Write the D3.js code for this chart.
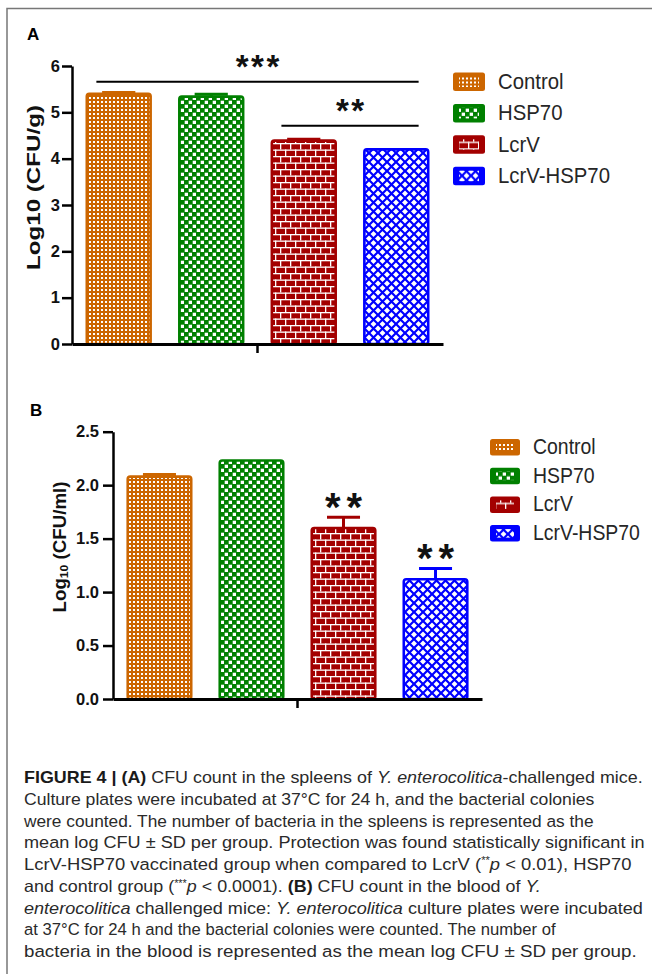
<!DOCTYPE html>
<html>
<head>
<meta charset="utf-8">
<script src="https://cdn.jsdelivr.net/npm/d3@7"></script>
<style>
  body { margin: 0; background: #fff; }
  text { white-space: pre; }
</style>
</head>
<body>
<script>
// groups and values
const groups = ["Control", "HSP70", "LcrV", "LcrV-HSP70"];
const groupColors = ["#cc6600", "#008000", "#a30000", "#0000ff"];

// panel A: spleen, log10 CFU/g
const spleenMeans = [5.40, 5.34, 4.39, 4.20];
const spleenSD = [0.03, 0.05, 0.03, 0.0];
const spleenTicks = [0, 1, 2, 3, 4, 5, 6];
const spleenBrackets = [
    {from: "Control", to: "LcrV-HSP70", level: 5.66, label: "***"},
    {from: "LcrV", to: "LcrV-HSP70", level: 4.71, label: "**"}
];

// panel B: blood, log10 CFU/ml
const bloodMeans = [2.08, 2.23, 1.60, 1.12];
const bloodSD = [0.02, 0.0, 0.10, 0.10];
const bloodTicks = [0, 0.5, 1.0, 1.5, 2.0, 2.5];
const bloodStars = ["", "", "**", "**"];

// caption, one entry per printed line: [text, style]
const captionLines = [
    [["FIGURE 4 | (A)", "b"], [" CFU count in the spleens of ", ""], ["Y. enterocolitica", "i"], ["-challenged mice.", ""]],
    [["Culture plates were incubated at 37°C for 24 h, and the bacterial colonies", ""]],
    [["were counted. The number of bacteria in the spleens is represented as the", ""]],
    [["mean log CFU ± SD per group. Protection was found statistically significant in", ""]],
    [["LcrV-HSP70 vaccinated group when compared to LcrV (", ""], ["**", "sup"], ["p", "i"], [" < 0.01), HSP70", ""]],
    [["and control group (", ""], ["***", "sup"], ["p", "i"], [" < 0.0001). ", ""], ["(B)", "b"], [" CFU count in the blood of ", ""], ["Y.", "i"]],
    [["enterocolitica", "i"], [" challenged mice: ", ""], ["Y. enterocolitica", "i"], [" culture plates were incubated", ""]],
    [["at 37°C for 24 h and the bacterial colonies were counted. The number of", ""]],
    [["bacteria in the blood is represented as the mean log CFU ± SD per group.", ""]]
];
const captionEnds = [643, 595, 594, 645, 632, 541, 643, 556, 637];

const font = "'Liberation Sans', Arial, Helvetica, sans-serif";

let svg = d3.select("body").append("svg")
    .attr("width", 652)
    .attr("height", 974)
    .style("font-family", font);

let color = d3.scaleOrdinal().domain(groups).range(groupColors);
let patId = d3.scaleOrdinal().domain(groups).range(["p-dots", "p-check", "p-brick", "p-diam"]);

// fill patterns
let defs = svg.append("defs");
function pattern(id, w, h) {
    return defs.append("pattern").attr("id", id)
        .attr("patternUnits", "userSpaceOnUse")
        .attr("width", w).attr("height", h);
}
let p = pattern("p-dots", 4, 4);
p.append("rect").attr("width", 4).attr("height", 4).attr("fill", color("Control"));
p.append("rect").attr("x", 1).attr("y", 1).attr("width", 2).attr("height", 2).attr("fill", "#fff");

p = pattern("p-check", 8, 8);
p.append("rect").attr("width", 8).attr("height", 8).attr("fill", color("HSP70"));
p.append("rect").attr("x", 0.7).attr("y", 0.7).attr("width", 3.3).attr("height", 3.3).attr("fill", "#fff");
p.append("rect").attr("x", 4.7).attr("y", 4.7).attr("width", 3.3).attr("height", 3.3).attr("fill", "#fff");

p = pattern("p-brick", 10, 13);
p.append("rect").attr("width", 10).attr("height", 13).attr("fill", color("LcrV"));
[[0, 0, 10, 1.3], [0, 6.5, 10, 1.3], [0, 0, 1.3, 6.5], [5, 6.5, 1.3, 6.5]].forEach(r =>
    p.append("rect").attr("x", r[0]).attr("y", r[1]).attr("width", r[2]).attr("height", r[3]).attr("fill", "#fff"));

p = pattern("p-diam", 9, 9);
p.append("rect").attr("width", 9).attr("height", 9).attr("fill", "#fff");
p.append("path").attr("d", "M-1,-1L10,10M10,-1L-1,10")
    .attr("stroke", color("LcrV-HSP70")).attr("stroke-width", 2.2);

// squeeze a text horizontally so it spans `target` px (the print font is condensed)
function fit(t, x, y, target, rot) {
    let w = t.node().getComputedTextLength();
    t.attr("transform", "translate(" + x + "," + y + ")" + (rot ? " rotate(-90)" : "") + " scale(" + (target / w) + ",1)");
}

// outer frame (top + left rule)
svg.append("path").attr("d", "M7,974V8.5H652")
    .attr("fill", "none").attr("stroke", "#777").attr("stroke-width", 1.5);

function drawPanel(o) {
    let g = svg.append("g");
    let x = d3.scaleBand().domain(groups).range([o.x0, o.x1]).paddingInner(0.31).paddingOuter(0.16);
    let y = d3.scaleLinear().domain([0, o.ymax]).range([o.ybottom, o.ytop]);
    let bw = x.bandwidth();

    g.append("text").attr("x", o.letterX).attr("y", o.letterY)
        .attr("font-size", 17).attr("font-weight", "bold").text(o.letter);

    // bars
    g.selectAll("rect.bar").data(groups).enter().append("rect")
        .attr("class", "bar")
        .attr("x", d => x(d))
        .attr("width", bw)
        .attr("y", (d, i) => y(o.means[i]))
        .attr("height", (d, i) => y(0) - y(o.means[i]))
        .attr("rx", 2.5)
        .attr("fill", d => "url(#" + patId(d) + ")")
        .attr("stroke", d => color(d))
        .attr("stroke-width", 2.6);

    // SD error bars (upper half only)
    groups.forEach((d, i) => {
        if (!o.sds[i]) return;
        let cx = x(d) + bw / 2, top = y(o.means[i] + o.sds[i]);
        g.append("line").attr("x1", cx).attr("x2", cx).attr("y1", y(o.means[i])).attr("y2", top)
            .attr("stroke", color(d)).attr("stroke-width", 3);
        g.append("line").attr("x1", cx - bw * 0.26).attr("x2", cx + bw * 0.26).attr("y1", top).attr("y2", top)
            .attr("stroke", color(d)).attr("stroke-width", 3);
    });

    // axes
    let ya = g.append("g").attr("transform", "translate(" + o.x0 + ",0)")
        .call(d3.axisLeft(y).tickValues(o.ticks).tickFormat(o.fmt).tickSize(10).tickSizeOuter(0).tickPadding(o.pad));
    ya.selectAll("path,line").attr("stroke", "#000").attr("stroke-width", 2.5);
    ya.selectAll("text").attr("font-size", 16.5).attr("font-weight", "bold")
        .attr("font-family", font).attr("fill", "#111");

    let xa = g.append("g").attr("transform", "translate(0," + y(0) + ")")
        .call(d3.axisBottom(x).tickSize(0).tickSizeOuter(0).tickFormat(""));
    xa.select("path").attr("stroke", "#000").attr("stroke-width", 3);
    let mid = (o.x0 + o.x1) / 2;
    g.append("line").attr("x1", mid).attr("x2", mid).attr("y1", y(0)).attr("y2", y(0) + 9)
        .attr("stroke", "#000").attr("stroke-width", 2.5);

    // y axis title
    let yt = g.append("text").attr("text-anchor", "middle")
        .attr("font-size", o.ylabelSize).attr("font-weight", "bold").attr("fill", "#111");
    o.ylabel.forEach(s => {
        let ts = yt.append("tspan").text(s[0]);
        if (s[1] === "sub") ts.attr("font-size", o.ylabelSize * 0.65).attr("baseline-shift", "-25%");
    });
    fit(yt, o.ylabelX, o.ylabelY, o.ylabelLen, true);

    // legend
    let lg = g.selectAll("g.leg").data(groups).enter().append("g")
        .attr("class", "leg")
        .attr("transform", (d, i) => "translate(" + o.legX + "," + (o.legY + i * o.legStep) + ")");
    lg.append("rect").attr("width", o.swW).attr("height", o.swH).attr("rx", 2.5)
        .attr("fill", d => color(d));
    lg.append("rect").attr("x", 6).attr("y", 4).attr("width", o.swW - 12).attr("height", o.swH - 8)
        .attr("fill", d => "url(#" + patId(d) + ")");
    let lt = lg.append("text").attr("font-size", 22).attr("fill", "#262626").text(d => d);
    let longest = lt.filter(d => d === "LcrV-HSP70").node().getComputedTextLength();
    lt.attr("transform", "translate(" + (o.txtX - o.legX) + "," + o.txtDy + ") scale(" + (o.legLen / longest) + ",1)");

    return {g: g, x: x, y: y, bw: bw};
}

function stars(g, cx, cy, label, fs, ls) {
    g.append("text").attr("x", cx + ls / 2).attr("y", cy + 0.57 * fs)
        .attr("text-anchor", "middle").attr("font-size", fs).attr("font-weight", "bold")
        .attr("letter-spacing", ls).attr("fill", "#111").text(label);
}

// ---- panel A ----
let A = drawPanel({
    letter: "A", letterX: 27, letterY: 40,
    x0: 72, x1: 443, ytop: 66, ybottom: 344, ymax: 6,
    means: spleenMeans, sds: spleenSD, ticks: spleenTicks, fmt: d3.format("d"), pad: 2,
    ylabel: [["Log10 (CFU/g)", ""]], ylabelSize: 19, ylabelX: 40, ylabelY: 187.5, ylabelLen: 165,
    legX: 453, legY: 72.5, legStep: 31.4, swW: 32, swH: 18.5, txtX: 498, txtDy: 16.5, legLen: 112
});
spleenBrackets.forEach(b => {
    let x1 = A.x(b.from) + A.bw * 0.15, x2 = A.x(b.to) + A.bw * 0.85, yy = A.y(b.level);
    A.g.append("line").attr("x1", x1).attr("x2", x2).attr("y1", yy).attr("y2", yy)
        .attr("stroke", "#000").attr("stroke-width", 2.2);
    stars(A.g, (x1 + x2) / 2, yy - 23, b.label, 33, 2.5);
});

// ---- panel B ----
let B = drawPanel({
    letter: "B", letterX: 30, letterY: 416,
    x0: 113, x1: 482, ytop: 431.7, ybottom: 699, ymax: 2.5,
    means: bloodMeans, sds: bloodSD, ticks: bloodTicks, fmt: d3.format(".1f"), pad: 4,
    ylabel: [["Log", ""], ["10", "sub"], [" (CFU/ml)", ""]], ylabelSize: 18, ylabelX: 65.5, ylabelY: 547, ylabelLen: 131,
    legX: 490, legY: 439, legStep: 28.7, swW: 30, swH: 16.5, txtX: 533, txtDy: 15, legLen: 107
});
groups.forEach((d, i) => {
    if (!bloodStars[i]) return;
    let top = B.y(bloodMeans[i] + bloodSD[i]);
    stars(B.g, B.x(d) + B.bw / 2, top - 19, bloodStars[i], 40, 6);
});

// ---- caption ----
let cap = svg.append("g");
captionLines.forEach((line, i) => {
    let t = cap.append("text").attr("font-size", 16.5).attr("fill", "#2a2a2a");
    line.forEach(s => {
        let ts = t.append("tspan").text(s[0]);
        if (s[1] === "b") ts.attr("font-weight", "bold").attr("fill", "#1a1a1a");
        if (s[1] === "i") ts.attr("font-style", "italic");
        if (s[1] === "sup") ts.attr("font-size", 10).attr("baseline-shift", "super");
    });
    fit(t, 24, 783 + i * 21.75, captionEnds[i] - 24, false);
});
</script>
</body>
</html>
